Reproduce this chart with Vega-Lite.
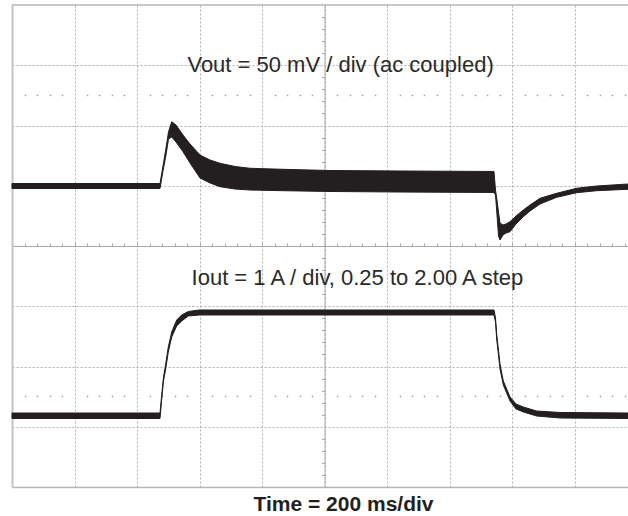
{
  "$schema": "https://vega.github.io/schema/vega-lite/v6.json",
  "width": 616,
  "height": 482,
  "autosize": "none",
  "padding": {"left": 12, "top": 5, "right": 0, "bottom": 29},
  "background": "white",
  "config": {
    "view": {"stroke": null},
    "axis": {"labels": false, "title": null, "ticks": false, "domain": false, "grid": false}
  },
  "datasets": {
    "vout": [
      {"t": 0, "hi": 1.037, "lo": 0.954},
      {"t": 473.6, "hi": 1.037, "lo": 0.954},
      {"t": 483.2, "hi": 1.328, "lo": 1.245},
      {"t": 492.8, "hi": 1.627, "lo": 1.51},
      {"t": 500.8, "hi": 1.892, "lo": 1.776},
      {"t": 511.0, "hi": 2.063, "lo": 1.809},
      {"t": 524.8, "hi": 2.008, "lo": 1.726},
      {"t": 547.2, "hi": 1.842, "lo": 1.565},
      {"t": 569.6, "hi": 1.693, "lo": 1.378},
      {"t": 601.6, "hi": 1.51, "lo": 1.129},
      {"t": 633.6, "hi": 1.427, "lo": 1.046},
      {"t": 665.6, "hi": 1.373, "lo": 0.984},
      {"t": 713.6, "hi": 1.32, "lo": 0.946},
      {"t": 761.6, "hi": 1.29, "lo": 0.929},
      {"t": 867.2, "hi": 1.273, "lo": 0.918},
      {"t": 1017.6, "hi": 1.253, "lo": 0.905},
      {"t": 1241.6, "hi": 1.245, "lo": 0.896},
      {"t": 1542.4, "hi": 1.237, "lo": 0.888},
      {"t": 1547.2, "hi": 0.929, "lo": 0.846},
      {"t": 1552.0, "hi": 0.763, "lo": 0.515},
      {"t": 1556.8, "hi": 0.564, "lo": 0.166},
      {"t": 1561.6, "hi": 0.382, "lo": 0.1},
      {"t": 1571.2, "hi": 0.349, "lo": 0.183},
      {"t": 1580.8, "hi": 0.365, "lo": 0.216},
      {"t": 1593.6, "hi": 0.403, "lo": 0.237},
      {"t": 1612.8, "hi": 0.498, "lo": 0.365},
      {"t": 1636.2, "hi": 0.598, "lo": 0.486},
      {"t": 1657.6, "hi": 0.68, "lo": 0.581},
      {"t": 1689.6, "hi": 0.792, "lo": 0.697},
      {"t": 1743.0, "hi": 0.875, "lo": 0.808},
      {"t": 1807.0, "hi": 0.958, "lo": 0.885},
      {"t": 1871.0, "hi": 0.996, "lo": 0.918},
      {"t": 1971.2, "hi": 1.029, "lo": 0.941}
    ],
    "iout": [
      {"t": 0, "hi": -2.772, "lo": -2.863},
      {"t": 473.6, "hi": -2.772, "lo": -2.863},
      {"t": 480.0, "hi": -2.423, "lo": -2.49},
      {"t": 484.8, "hi": -2.174, "lo": -2.241},
      {"t": 491.8, "hi": -1.959, "lo": -2.041},
      {"t": 500.2, "hi": -1.676, "lo": -1.759},
      {"t": 511.0, "hi": -1.427, "lo": -1.51},
      {"t": 527.0, "hi": -1.228, "lo": -1.328},
      {"t": 543.0, "hi": -1.145, "lo": -1.245},
      {"t": 564.2, "hi": -1.087, "lo": -1.162},
      {"t": 599.4, "hi": -1.062, "lo": -1.145},
      {"t": 1542.4, "hi": -1.062, "lo": -1.145},
      {"t": 1547.2, "hi": -1.195, "lo": -1.261},
      {"t": 1551.0, "hi": -1.461, "lo": -1.544},
      {"t": 1561.6, "hi": -1.959, "lo": -2.041},
      {"t": 1572.2, "hi": -2.241, "lo": -2.307},
      {"t": 1593.6, "hi": -2.506, "lo": -2.573},
      {"t": 1612.8, "hi": -2.622, "lo": -2.705},
      {"t": 1636.2, "hi": -2.672, "lo": -2.755},
      {"t": 1679.0, "hi": -2.739, "lo": -2.822},
      {"t": 1753.6, "hi": -2.763, "lo": -2.855},
      {"t": 1971.2, "hi": -2.772, "lo": -2.863}
    ]
  },
  "resolve": {"axis": {"x": "independent", "y": "independent"}},
  "layer": [
    {
      "data": {"name": "vout"},
      "mark": {"type": "area", "color": "#231f20", "stroke": "#231f20", "strokeWidth": 1},
      "encoding": {
        "x": {
          "field": "t", "type": "quantitative",
          "scale": {"domain": [0, 1971.2], "nice": false, "zero": false},
          "axis": {
            "orient": "bottom",
            "values": [200, 400, 600, 800, 1000, 1200, 1400, 1600, 1800],
            "grid": true, "gridColor": "#b0b0b0", "gridDash": [2, 2], "gridWidth": 1,
            "domain": true, "domainColor": "#b4b4b4", "domainWidth": 1.5,
            "title": "Time = 200 ms/div",
            "titleFont": "Liberation Sans", "titleFontSize": 21, "titleFontWeight": "bold",
            "titleColor": "#231f20", "titleX": 331, "titleY": 23.5, "titleBaseline": "alphabetic",
            "titleAnchor": null, "titleAlign": "center"
          }
        },
        "y": {
          "field": "hi", "type": "quantitative",
          "scale": {"domain": [-4, 4], "nice": false, "zero": false},
          "axis": {
            "orient": "left",
            "values": [-3, -2, -1, 1, 2, 3],
            "grid": true, "gridColor": "#b0b0b0", "gridDash": [2, 2], "gridWidth": 1,
            "domain": true, "domainColor": "#c4c4c4", "domainWidth": 2
          }
        },
        "y2": {"field": "lo"}
      }
    },
    {
      "data": {"name": "iout"},
      "mark": {"type": "area", "color": "#231f20", "stroke": "#231f20", "strokeWidth": 1},
      "encoding": {
        "x": {
          "field": "t", "type": "quantitative",
          "scale": {"domain": [0, 1971.2], "nice": false, "zero": false},
          "axis": {
            "orient": "top", "offset": -241,
            "values": [40, 80, 120, 160, 200, 240, 280, 320, 360, 400, 440, 480, 520, 560, 600, 640, 680, 720, 760, 800, 840, 880, 920, 960, 1000, 1040, 1080, 1120, 1160, 1200, 1240, 1280, 1320, 1360, 1400, 1440, 1480, 1520, 1560, 1600, 1640, 1680, 1720, 1760, 1800, 1840, 1880, 1920, 1960],
            "domain": true, "domainColor": "#a8a8a8", "domainWidth": 1,
            "ticks": true, "tickSize": 3, "tickColor": "#a8a8a8", "tickWidth": 1
          }
        },
        "y": {
          "field": "hi", "type": "quantitative",
          "scale": {"domain": [-4, 4], "nice": false, "zero": false},
          "axis": {
            "orient": "left", "offset": -312.5,
            "values": [-3.8, -3.6, -3.4, -3.2, -2.8, -2.6, -2.4, -2.2, -1.8, -1.6, -1.4, -1.2, -0.8, -0.6, -0.4, -0.2, 0.2, 0.4, 0.6, 0.8, 1.2, 1.4, 1.6, 1.8, 2.2, 2.4, 2.6, 2.8, 3.2, 3.4, 3.6, 3.8],
            "domain": true, "domainColor": "#a8a8a8", "domainWidth": 1,
            "ticks": true, "tickSize": 3, "tickColor": "#a8a8a8", "tickWidth": 1
          }
        },
        "y2": {"field": "lo"}
      }
    },
    {
      "data": {"values": [{}]},
      "mark": {"type": "text", "font": "Liberation Sans", "fontSize": 22, "align": "center", "baseline": "alphabetic", "color": "#2a2a2a"},
      "encoding": {
        "x": {
          "datum": 1051.5, "type": "quantitative",
          "scale": {"domain": [0, 1971.2], "nice": false, "zero": false},
          "axis": {
            "orient": "top", "offset": -90.7,
            "values": [40, 80, 120, 160, 240, 280, 320, 360, 440, 480, 520, 560, 640, 680, 720, 760, 840, 880, 920, 960, 1040, 1080, 1120, 1160, 1240, 1280, 1320, 1360, 1440, 1480, 1520, 1560, 1640, 1680, 1720, 1760, 1840, 1880, 1920, 1960],
            "ticks": true, "tickSize": 1.5, "tickWidth": 1.5, "tickColor": "#a0a0a0"
          }
        },
        "y": {"datum": 2.888, "type": "quantitative", "scale": {"domain": [-4, 4], "nice": false, "zero": false}, "axis": null},
        "text": {"value": "Vout = 50 mV / div (ac coupled)"}
      }
    },
    {
      "data": {"values": [{}]},
      "mark": {"type": "text", "font": "Liberation Sans", "fontSize": 22, "align": "center", "baseline": "alphabetic", "color": "#2a2a2a"},
      "encoding": {
        "x": {
          "datum": 1105.3, "type": "quantitative",
          "scale": {"domain": [0, 1971.2], "nice": false, "zero": false},
          "axis": {
            "orient": "top", "offset": -391.7,
            "values": [40, 80, 120, 160, 240, 280, 320, 360, 440, 480, 520, 560, 640, 680, 720, 760, 840, 880, 920, 960, 1040, 1080, 1120, 1160, 1240, 1280, 1320, 1360, 1440, 1480, 1520, 1560, 1640, 1680, 1720, 1760, 1840, 1880, 1920, 1960],
            "ticks": true, "tickSize": 1.5, "tickWidth": 1.5, "tickColor": "#a0a0a0"
          }
        },
        "y": {"datum": -0.647, "type": "quantitative", "scale": {"domain": [-4, 4], "nice": false, "zero": false}, "axis": null},
        "text": {"value": "Iout = 1 A / div, 0.25 to 2.00 A step"}
      }
    },
    {
      "data": {"values": [{}]},
      "mark": {"type": "rule", "color": "#b4b4b4", "strokeWidth": 1.5},
      "encoding": {
        "y": {"datum": 4, "type": "quantitative", "scale": {"domain": [-4, 4], "nice": false, "zero": false}, "axis": null}
      }
    }
  ]
}
